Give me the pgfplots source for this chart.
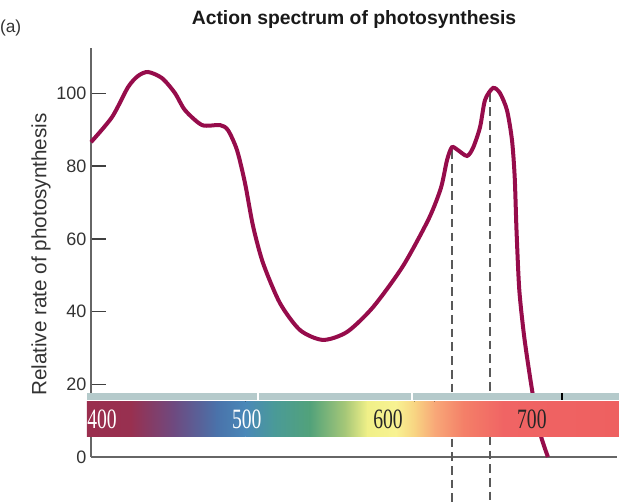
\documentclass[border=0pt]{standalone}
\usepackage{pgfplots}
\pgfplotsset{compat=1.18}
\usepackage{fontspec}
\setmainfont{Liberation Sans}
\newfontfamily\serifnum{Liberation Serif}
\definecolor{curvec}{RGB}{150,12,75}
\definecolor{s0}{HTML}{9A2E4E}
\definecolor{s1}{HTML}{983050}
\definecolor{s2}{HTML}{6E4A80}
\definecolor{s3}{HTML}{4A72AA}
\definecolor{s4}{HTML}{4A88B8}
\definecolor{s5}{HTML}{4A9A98}
\definecolor{s6}{HTML}{52A27A}
\definecolor{s7}{HTML}{A8C878}
\definecolor{s8}{HTML}{F0F088}
\definecolor{s9}{HTML}{F8F292}
\definecolor{s10}{HTML}{F8D482}
\definecolor{s11}{HTML}{F8A878}
\definecolor{s12}{HTML}{F48068}
\definecolor{s13}{HTML}{F06464}
\definecolor{s14}{HTML}{EE6060}
\definecolor{stripc}{HTML}{B5CACB}
\begin{document}
\begin{tikzpicture}
\path[use as bounding box] (0,0) rectangle (464.25pt,376.5pt);
\node[font=\fontsize{13}{15}\selectfont, text=black!80] at (8pt,355.5pt) {(a)};
\begin{axis}[
  at={(68.25pt,33.75pt)}, anchor=south west,
  width=394.5pt, height=306.75pt, scale only axis,
  xmin=392.3, xmax=759.4, ymin=0, ymax=112.5,
  clip=false,
  axis x line=bottom, axis y line=left,
  axis line style={-, draw=black!60, line width=1.1pt},
  xtick=\empty,
  ytick={0,20,40,60,80,100},
  tick align=inside, major tick length=11pt,
  ytick style={draw=black!75, line width=1.1pt},
  yticklabel style={font=\fontsize{13.5}{15}\selectfont, text=black!80},
  /pgf/number format/assume math mode=true,
  ylabel={Relative rate of photosynthesis},
  ylabel style={font=\fontsize{15.5}{17}\selectfont, text=black!80, at={(axis description cs:-0.095,0.495)}, anchor=center},
  title={Action spectrum of photosynthesis},
  title style={font=\bfseries\fontsize{14.5}{16}\selectfont, text=black!90, at={(axis description cs:0.5,1.049)}, anchor=center},
]
\addplot[draw=black!65, line width=1.1pt, dash pattern=on 6.5pt off 3.8pt] coordinates {(644.2,84.4) (644.2,-12.4)};
\addplot[draw=black!65, line width=1.1pt, dash pattern=on 6.5pt off 3.8pt] coordinates {(670.8,100) (670.8,-12.4)};
\addplot[curvec, line width=3pt, smooth, tension=0.45] coordinates {
(392.3,86.6) (407.0,93.5) (418.1,101.7) (425.1,104.8) (432.1,105.9)
(441.9,104.2) (450.9,100.1) (457.9,95.4) (469.8,91.3) (482.3,91.3)
(487.9,89.9) (494.2,84.4) (499.8,75.3) (505.4,63.5) (512.4,53.3)
(524.2,42.3) (538.2,34.9) (554.2,32.2) (571.0,34.4) (589.1,41.2)
(610.0,52.5) (628.0,65.5) (636.5,74.0) (640.8,81.7)
(644.2,85.2) (648.4,84.4) (654.7,82.8) (658.9,85.0) (663.8,90.7)
(667.3,98.2) (672.9,101.5) (677.7,100.1) (682.6,95.4) (686.1,87.2)
(688.0,77.0) (689.3,62.0) (691.2,46.0) (694.5,33.5) (698.5,22.5)
(702.5,12.8) (706.5,5.5) (711.2,0)
};
% spectrum bar
\fill[stripc] (axis cs:389.5,15.4) rectangle (axis cs:760.8,17.6);
\fill[white] (axis cs:508.2,15.67) rectangle (axis cs:509.6,17.6);
\fill[white] (axis cs:615.6,15.67) rectangle (axis cs:617.0,17.6);
\fill[black] (axis cs:720.5,15.8) rectangle (axis cs:722,17.6);
\fill[white] (axis cs:389.5,15.4) rectangle (axis cs:760.8,15.8);
\fill[left color=s0, right color=s1] (axis cs:389.5,5.77) rectangle (axis cs:420.3,15.4);
\fill[left color=s1, right color=s2] (axis cs:420,5.77) rectangle (axis cs:450.3,15.4);
\fill[left color=s2, right color=s3] (axis cs:450,5.77) rectangle (axis cs:480.3,15.4);
\fill[left color=s3, right color=s4] (axis cs:480,5.77) rectangle (axis cs:500.3,15.4);
\fill[left color=s4, right color=s5] (axis cs:500,5.77) rectangle (axis cs:520.3,15.4);
\fill[left color=s5, right color=s6] (axis cs:520,5.77) rectangle (axis cs:545.3,15.4);
\fill[left color=s6, right color=s7] (axis cs:545,5.77) rectangle (axis cs:570.3,15.4);
\fill[left color=s7, right color=s8] (axis cs:570,5.77) rectangle (axis cs:585.3,15.4);
\fill[left color=s8, right color=s9] (axis cs:585,5.77) rectangle (axis cs:605.3,15.4);
\fill[left color=s9, right color=s10] (axis cs:605,5.77) rectangle (axis cs:618.3,15.4);
\fill[left color=s10, right color=s11] (axis cs:618,5.77) rectangle (axis cs:632.3,15.4);
\fill[left color=s11, right color=s12] (axis cs:632,5.77) rectangle (axis cs:652.3,15.4);
\fill[left color=s12, right color=s13] (axis cs:652,5.77) rectangle (axis cs:680.3,15.4);
\fill[left color=s13, right color=s14] (axis cs:680,5.77) rectangle (axis cs:760.8,15.4);
\node[font=\serifnum\fontsize{21}{21}\selectfont, xscale=0.7, text=white] at (axis cs:400,10.4) {400};
\node[font=\serifnum\fontsize{21}{21}\selectfont, xscale=0.7, text=white] at (axis cs:501,10.4) {500};
\node[font=\serifnum\fontsize{21}{21}\selectfont, xscale=0.7, text=black!85] at (axis cs:599.6,10.4) {600};
\node[font=\serifnum\fontsize{21}{21}\selectfont, xscale=0.7, text=black!85] at (axis cs:700,10.4) {700};
\end{axis}
\end{tikzpicture}
\end{document}
